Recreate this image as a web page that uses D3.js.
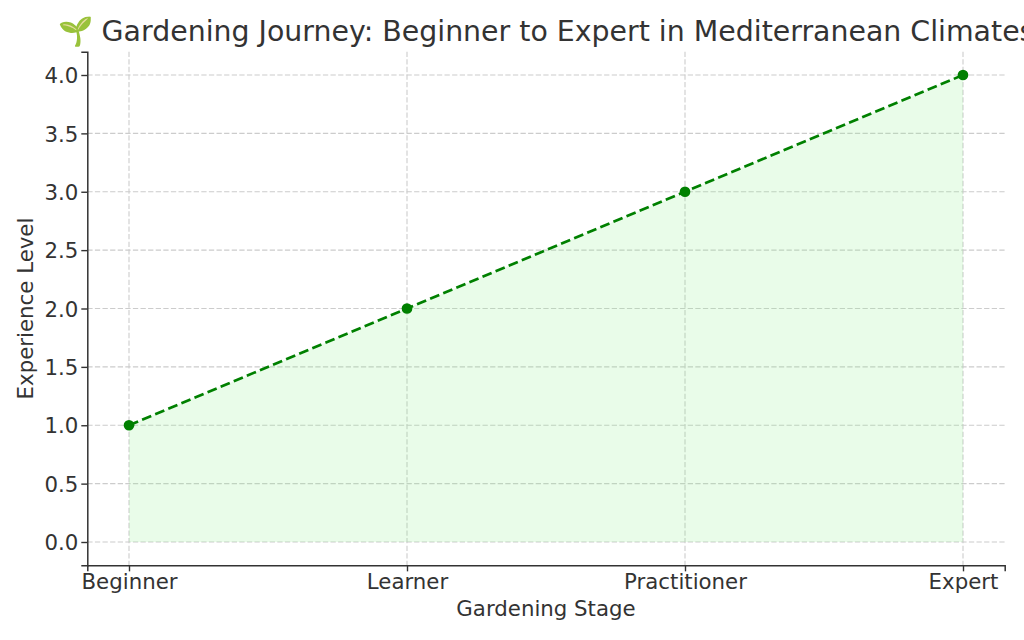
<!DOCTYPE html>
<html><head><meta charset="utf-8">
<script src="https://cdn.jsdelivr.net/npm/d3@7"></script>
<style>
body{margin:0;background:#fff;}
svg{display:block;font-family:"DejaVu Sans",sans-serif;}
</style></head>
<body><svg id="c" width="1024" height="640"></svg>
<script>
const stages = ["Beginner","Learner","Practitioner","Expert"];
const levels = [1,2,3,4];
const yTicks = [0,0.5,1,1.5,2,2.5,3,3.5,4];
const titleText = "🌱 Gardening Journey: Beginner to Expert in Mediterranean Climates";
const xLabel = "Gardening Stage";
const yLabel = "Experience Level";

const svg = d3.select("#c");
const L = 87.3, R = 1004.7, T = 51.65, B = 565.35;
const x = d3.scaleLinear().domain([-0.15, 3.15]).range([L, R]);
const y = d3.scaleLinear().domain([-0.2, 4.2]).range([B, T]);
const txt = "#333333";
const fs = "21.3px";

// grid
const g = svg.append("g");
g.selectAll(".hg").data(yTicks).enter().append("line")
  .attr("x1", L).attr("x2", R).attr("y1", d=>y(d)).attr("y2", d=>y(d))
  .attr("stroke", "#cccccc").attr("stroke-width", 1.1).attr("stroke-dasharray", "5.3,2.3");
g.selectAll(".vg").data(stages).enter().append("line")
  .attr("y1", T).attr("y2", B).attr("x1", (d,i)=>x(i)).attr("x2", (d,i)=>x(i))
  .attr("stroke", "#cccccc").attr("stroke-width", 1.1).attr("stroke-dasharray", "5.3,2.3");

// area
const area = d3.area().x((d,i)=>x(i)).y0(y(0)).y1(d=>y(d));
svg.append("path").datum(levels).attr("d", area).attr("fill", "#90ee90").attr("fill-opacity", 0.2);

// line
const line = d3.line().x((d,i)=>x(i)).y(d=>y(d));
svg.append("path").datum(levels).attr("d", line).attr("fill", "none")
  .attr("stroke", "#008000").attr("stroke-width", 2.67).attr("stroke-dasharray", "9.9,4.3");
svg.selectAll(".pt").data(levels).enter().append("circle")
  .attr("cx", (d,i)=>x(i)).attr("cy", d=>y(d)).attr("r", 5.35).attr("fill", "#008000");

// axes
const xAxis = d3.axisBottom(x).tickValues(d3.range(stages.length)).tickFormat(i=>stages[i]).tickSize(6).tickPadding(2.5);
const yAxis = d3.axisLeft(y).tickValues(yTicks).tickFormat(d3.format(".1f")).tickSize(6).tickPadding(3);
const xa = svg.append("g").attr("transform", `translate(0,${B})`).call(xAxis);
const ya = svg.append("g").attr("transform", `translate(${L},0)`).call(yAxis);
[xa, ya].forEach(a=>{
  a.select(".domain").attr("stroke", txt).attr("stroke-width", 1.5);
  a.selectAll(".tick line").attr("stroke", txt).attr("stroke-width", 1.4);
  a.selectAll(".tick text").attr("fill", txt).style("font-size", fs).style("font-family", "DejaVu Sans");
});
ya.selectAll(".tick text").attr("dy", "0.36em");

// labels
svg.append("text").attr("x", (L+R)/2).attr("y", 616).attr("text-anchor", "middle")
  .attr("fill", txt).style("font-size", fs).text(xLabel);
svg.append("text").attr("transform", `translate(33,${(T+B)/2}) rotate(-90)`).attr("text-anchor", "middle")
  .attr("fill", txt).style("font-size", fs).text(yLabel);
svg.append("text").attr("x", (L+R)/2).attr("y", 41).attr("text-anchor", "middle")
  .attr("fill", txt).style("font-size", "28.4px").text(titleText);
</script></body></html>
